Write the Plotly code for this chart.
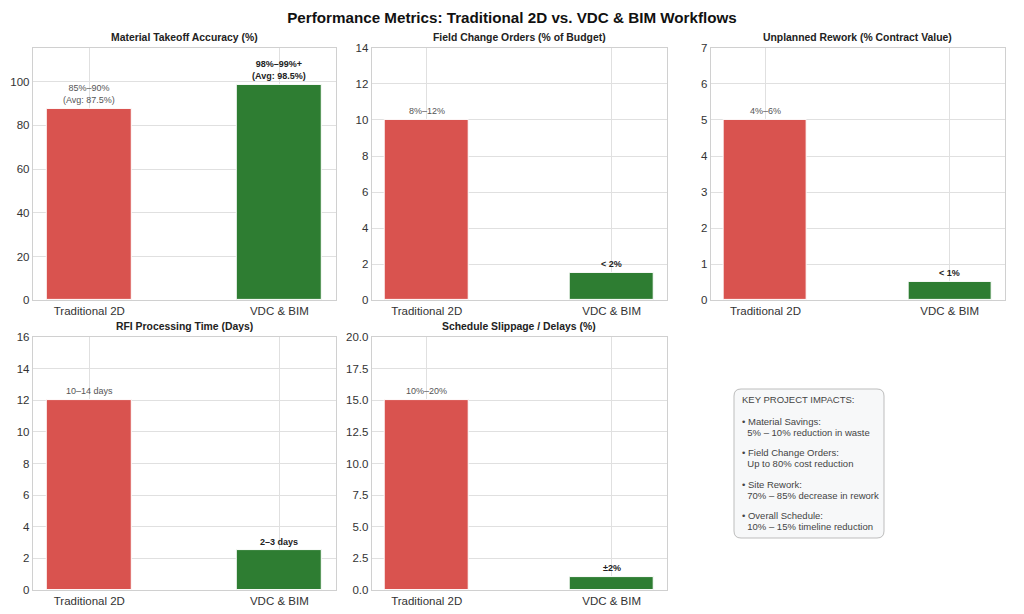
import plotly.graph_objects as go
from plotly.subplots import make_subplots

## data
categories = ["Traditional 2D", "VDC & BIM"]
metric_titles = [
    "Material Takeoff Accuracy (%)",
    "Field Change Orders (% of Budget)",
    "Unplanned Rework (% Contract Value)",
    "RFI Processing Time (Days)",
    "Schedule Slippage / Delays (%)",
]
traditional_vals = [87.5, 10, 5, 12, 15]
vdc_vals = [98.5, 1.5, 0.5, 2.5, 1]
traditional_labels = ["85%\u201390%<br>(Avg: 87.5%)", "8%\u201312%", "4%\u20136%", "10\u201314 days", "10%\u201320%"]
vdc_labels = ["98%\u201399%+<br>(Avg: 98.5%)", "< 2%", "< 1%", "2\u20133 days", "\u00b12%"]
y_max = [115.5, 14, 7, 16, 20]
y_dtick = [20, 2, 1, 2, 2.5]

impacts = [
    ("Material Savings:", "5% \u2013 10% reduction in waste"),
    ("Field Change Orders:", "Up to 80% cost reduction"),
    ("Site Rework:", "70% \u2013 85% decrease in rework"),
    ("Overall Schedule:", "10% \u2013 15% timeline reduction"),
]

red = "#d9534f"
green = "#2e7d32"

W, H = 1024, 614

fig = make_subplots(rows=2, cols=3)

x_domains = [[0.032, 0.328], [0.363, 0.651], [0.694, 0.981]]
y_domains = [[0.511, 0.922], [0.039, 0.451]]

annots = []
for i in range(5):
    r = i // 3 + 1
    c = i % 3 + 1
    fig.add_trace(go.Bar(
        x=categories, y=[traditional_vals[i], vdc_vals[i]],
        width=0.45,
        marker=dict(color=[red, green], line=dict(color="white", width=1)),
        showlegend=False, hoverinfo="x+y",
    ), row=r, col=c)
    n = "" if i == 0 else str(i + 1)
    fig.layout["xaxis" + n].update(
        domain=x_domains[c - 1], range=[-0.2975, 1.2975], automargin=False,
        showgrid=True, gridcolor="#e0e0e0", linecolor="#d0d0d0", mirror=True, showline=True,
        tickfont=dict(size=11.5, color="#333"), ticks="", fixedrange=True,
    )
    fig.layout["yaxis" + n].update(
        domain=y_domains[r - 1], range=[0, y_max[i]], dtick=y_dtick[i], automargin=False,
        showgrid=True, gridcolor="#e0e0e0", linecolor="#d0d0d0", mirror=True, showline=True,
        tickfont=dict(size=11.5, color="#333"), zeroline=False, ticks="",
        tickformat=".1f" if i == 4 else "d",
    )
    # subplot title
    annots.append(dict(
        text="<b>" + metric_titles[i] + "</b>", xref="x" + n + " domain", yref="y" + n + " domain",
        x=0.5, y=1.0, yanchor="bottom", yshift=3, showarrow=False,
        font=dict(size=10.4, color="#222"),
    ))
    # value labels
    annots.append(dict(
        text=traditional_labels[i], x=categories[0], y=traditional_vals[i],
        xref="x" + n, yref="y" + n, yanchor="bottom", yshift=2, showarrow=False,
        font=dict(size=9, color="#555"),
    ))
    annots.append(dict(
        text="<b>" + vdc_labels[i].replace("<br>", "</b><br><b>") + "</b>", x=categories[1], y=vdc_vals[i],
        xref="x" + n, yref="y" + n, yanchor="bottom", yshift=2, showarrow=False,
        font=dict(size=9, color="#222"),
    ))

# hide the unused 6th subplot
fig.layout["xaxis6"].update(visible=False, domain=x_domains[2], automargin=False)
fig.layout["yaxis6"].update(visible=False, domain=y_domains[1], automargin=False)

# rounded box behind the impacts text
x0, x1 = 734 / W, 884 / W
y0, y1 = 1 - 538 / H, 1 - 389 / H
rx, ry = 7 / W, 7 / H
box_path = (
    f"M {x0 + rx} {y1} L {x1 - rx} {y1} Q {x1} {y1} {x1} {y1 - ry} "
    f"L {x1} {y0 + ry} Q {x1} {y0} {x1 - rx} {y0} "
    f"L {x0 + rx} {y0} Q {x0} {y0} {x0} {y0 + ry} "
    f"L {x0} {y1 - ry} Q {x0} {y1} {x0 + rx} {y1} Z"
)
fig.add_shape(type="path", path=box_path, xref="paper", yref="paper",
              fillcolor="#f7f8f9", line=dict(color="#bdbdbd", width=1), layer="below")

# one annotation per text line so the line spacing matches
box_lines = [("KEY PROJECT IMPACTS:", 399)]
ypos = 421
for head, detail in impacts:
    box_lines.append(("\u2022 " + head, ypos))
    box_lines.append(("  " + detail, ypos + 11))
    ypos += 31.5
for txt, yy in box_lines:
    annots.append(dict(
        text=txt, xref="paper", yref="paper", x=740 / W, y=1 - yy / H,
        xanchor="left", yanchor="middle", align="left", showarrow=False,
        font=dict(size=9.5, color="#444"),
    ))

fig.update_layout(
    width=W, height=H,
    margin=dict(t=0, l=0, r=0, b=0, autoexpand=False),
    paper_bgcolor="white", plot_bgcolor="white",
    font=dict(family="Liberation Sans, Arial, sans-serif", color="#333"),
    title=dict(text="<b>Performance Metrics: Traditional 2D vs. VDC & BIM Workflows</b>",
               x=0.5, xanchor="center", y=0.971, yanchor="middle", font=dict(size=15.2, color="#111")),
    annotations=annots,
    bargap=0,
)

fig.write_html("out.html", config={"displayModeBar": False},
               post_script="document.body.style.margin='0';")
